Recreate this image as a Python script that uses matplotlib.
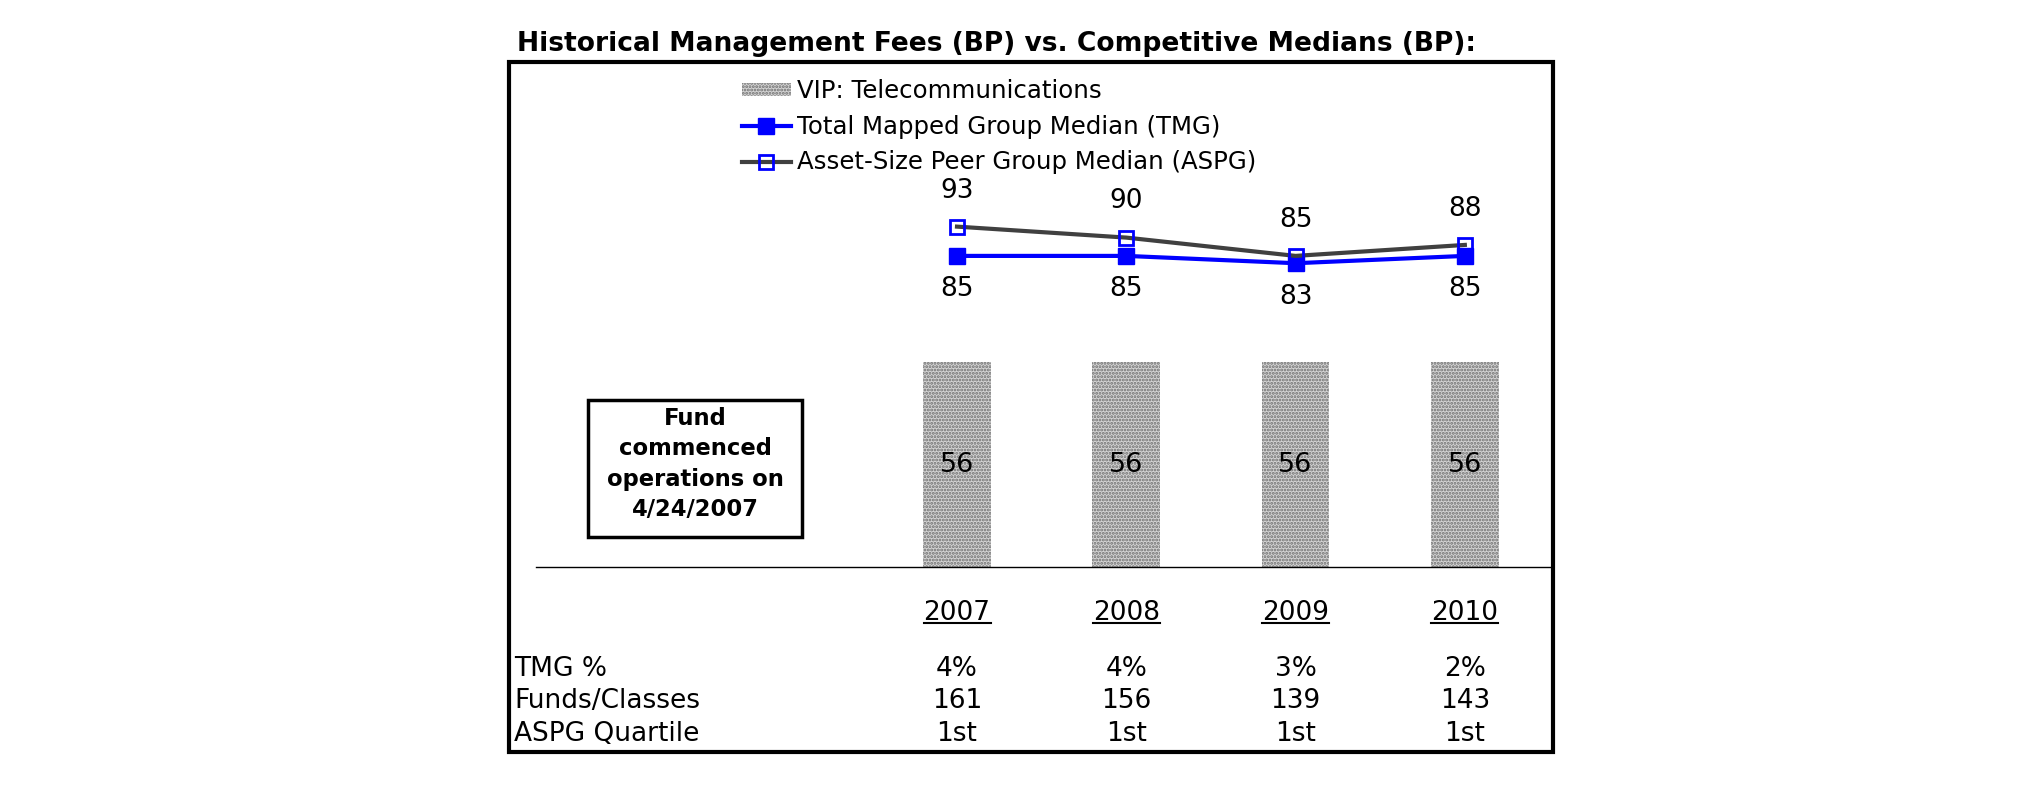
import matplotlib
matplotlib.use('Agg')
import matplotlib.pyplot as plt
from matplotlib.patches import Rectangle
from matplotlib.lines import Line2D

# ---- data ----
years = ['2007', '2008', '2009', '2010']
vip_fees = [56, 56, 56, 56]
tmg_median = [85, 85, 83, 85]
aspg_median = [93, 90, 85, 88]
tmg_pct = ['4%', '4%', '3%', '2%']
funds_classes = ['161', '156', '139', '143']
aspg_quartile = ['1st', '1st', '1st', '1st']
row_labels = ['TMG %', 'Funds/Classes', 'ASPG Quartile']
series_names = ['VIP: Telecommunications',
                'Total Mapped Group Median (TMG)',
                'Asset-Size Peer Group Median (ASPG)']
title = 'Historical Management Fees (BP) vs. Competitive Medians (BP):'
note = 'Fund\ncommenced\noperations on\n4/24/2007'

W, H = 2025, 806
plt.rcParams['font.family'] = ['DejaVu Sans']
plt.rcParams['hatch.linewidth'] = 1.4
fig = plt.figure(figsize=(W / 100, H / 100), dpi=100)
fig.patch.set_facecolor('white')


def fx(px):
    return px / W


def fy(py):
    return 1 - py / H


ax = fig.add_axes([fx(536), fy(567), fx(1550) - fx(536), fy(201) - fy(567)])
x = list(range(len(years)))
ax.set_xlim(-2.487, 3.503)
ax.set_ylim(0, 100)

bars = ax.bar(x, vip_fees, width=0.4, color='#d4d4d4', edgecolor='#6e6e6e',
              hatch='.....', linewidth=0, label=series_names[0], zorder=1)
ax.bar_label(bars, label_type='center', fontsize=19.5, color='black')

tmg_line, = ax.plot(x, tmg_median, color='#0000ff', lw=3, marker='s', ms=11,
                    mfc='#0000ff', mec='#0000ff', label=series_names[1], zorder=3)
aspg_line, = ax.plot(x, aspg_median, color='#404040', lw=3, marker='s', ms=10,
                     mfc='none', mec='#0000ff', mew=2, label=series_names[2], zorder=4)

for xi, v in zip(x, aspg_median):
    ax.annotate(str(v), (xi, v), xytext=(0, 26), textcoords='offset points',
                ha='center', va='center', fontsize=19)
for xi, v in zip(x, tmg_median):
    ax.annotate(str(v), (xi, v), xytext=(0, -24), textcoords='offset points',
                ha='center', va='center', fontsize=19)

ax.set_xticks(x, years, fontsize=19)
ax.tick_params(axis='x', length=0, pad=24)
ax.set_yticks([])
for s in ['top', 'left', 'right']:
    ax.spines[s].set_visible(False)
ax.spines['bottom'].set_linewidth(1.0)
ax.spines['bottom'].set_color('black')
ax.patch.set_alpha(0)

# legend
fig.legend([bars, tmg_line, aspg_line], series_names, loc='upper left',
           bbox_to_anchor=(fx(742), fy(79)), bbox_transform=fig.transFigure,
           frameon=False, fontsize=17.6, handlelength=2.0, handletextpad=0.25,
           labelspacing=0.48, borderpad=0, borderaxespad=0, handleheight=0.45)

# title
fig.text(fx(517), fy(51), title, ha='left', va='baseline', fontsize=19.1,
         fontweight='bold')

# outer frame
fig.add_artist(Rectangle((fx(509), fy(752)), fx(1553) - fx(509), fy(62) - fy(752),
                         transform=fig.transFigure, fill=False, lw=3, ec='black'))

# note box
fig.add_artist(Rectangle((fx(588), fy(537)), fx(802) - fx(588), fy(400) - fy(537),
                         transform=fig.transFigure, fill=False, lw=2.5, ec='black'))
fig.text(fx(695), fy(464), note, ha='center', va='center', fontsize=16.3,
         fontweight='bold', linespacing=1.4, multialignment='center')

# table
row_values = [tmg_pct, funds_classes, aspg_quartile]
row_y = [669, 701, 734]
for lab, vals, yy in zip(row_labels, row_values, row_y):
    fig.text(fx(514), fy(yy), lab, ha='left', va='center', fontsize=19)
    for xi, v in zip(x, vals):
        ax.annotate(v, xy=(xi, fy(yy)), xycoords=('data', 'figure fraction'),
                    ha='center', va='center', fontsize=19, annotation_clip=False)

# underline year labels
fig.canvas.draw()
inv = fig.transFigure.inverted()
for lbl in ax.get_xticklabels():
    bb = lbl.get_window_extent()
    (x0, y0), (x1, _) = inv.transform([(bb.x0, bb.y0 + 3), (bb.x1, bb.y0 + 3)])
    fig.add_artist(Line2D([x0, x1], [y0, y0], transform=fig.transFigure,
                          color='black', lw=1.5))

fig.savefig('out.png', dpi=100, facecolor='white')
